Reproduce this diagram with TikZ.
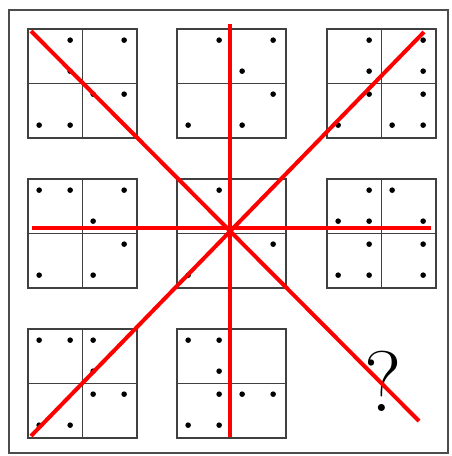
\documentclass[tikz,border=0pt]{standalone}
\begin{document}
\begin{tikzpicture}[
    x=1pt, y=-1pt,
    cell/.style={draw=black!75, line width=1.7pt, minimum size=109pt, inner sep=0pt},
    cut/.style={red, line width=4pt}
]
  \useasboundingbox (0,0) rectangle (452,456);
  \draw[black!70, line width=1.7pt] (9,10) rectangle (448,453);

  %--- exact positions ---
  \node[cell] (b1) at (82.5,83.5)   {};
  \node[cell] (b2) at (231.5,83.5)  {};
  \node[cell] (b3) at (381.5,83.5)  {};
  \node[cell] (b4) at (82.5,233.5)  {};
  \node[cell] (b5) at (231.5,233.5) {};
  \node[cell] (b6) at (381.5,233.5) {};
  \node[cell] (b7) at (82.5,383.5)  {};
  \node[cell] (b8) at (231.5,383.5) {};
  \node[font=\fontsize{86}{86}\selectfont] (q) at (383,381) {?};

  %--- quarters ---
  \foreach \b in {b1,b2,b3,b4,b5,b6,b7,b8} {
    \draw[black!75, line width=1.7pt] (\b.north) -- (\b.south);
    \draw[black!75, line width=1.7pt] (\b.west) -- (\b.east);
  }

  %--- dots ---
  \foreach \b/\pts in {
      b1/{(43,12),(97,12),(43,43),(66,66),(97,66),(12,97),(43,97)},
      b2/{(43,12),(97,12),(66,43),(97,66),(12,97),(66,97)},
      b3/{(43,12),(97,12),(43,43),(97,43),(43,66),(97,66),(12,97),(66,97),(97,97)},
      b4/{(12,12),(43,12),(97,12),(66,43),(97,66),(12,97),(66,97)},
      b5/{(43,12),(97,66),(12,97)},
      b6/{(43,12),(66,12),(12,43),(43,43),(97,43),(43,66),(97,66),(12,97),(43,97),(97,97)},
      b7/{(12,12),(43,12),(66,12),(66,43),(66,66),(97,66),(12,97),(43,97)},
      b8/{(12,12),(43,12),(43,43),(43,66),(66,66),(97,66),(12,97),(43,97)}} {
    \foreach \p in \pts
      \fill[shift={(\b.north west)}] \p circle (2.8pt);
  }

  %--- red cuts ---
  \coordinate (tl) at (31,31);
  \coordinate (br) at (419,421);
  \coordinate (tr) at (424,32);
  \coordinate (bl) at (31,436);
  \coordinate (top) at (230,24);
  \coordinate (bot) at (230,437);
  \coordinate (lft) at (32,228);
  \coordinate (rgt) at (431,228);
  \draw[cut] (tl) -- (br);
  \draw[cut] (tr) -- (bl);
  \draw[cut] (top) -- (bot);
  \draw[cut] (lft) -- (rgt);
\end{tikzpicture}
\end{document}
